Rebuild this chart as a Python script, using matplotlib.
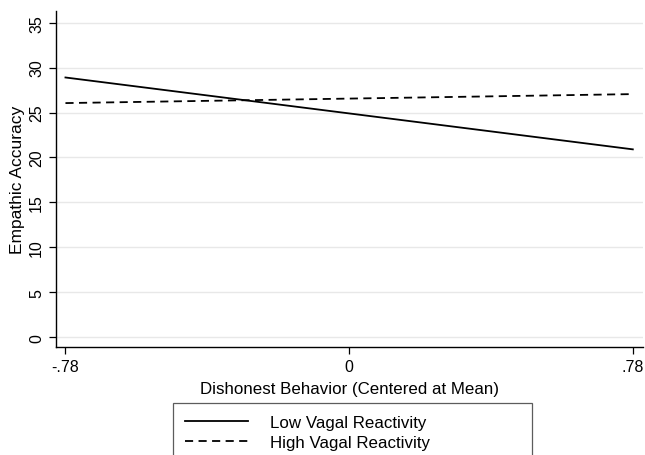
import matplotlib
matplotlib.use("Agg")
import matplotlib.pyplot as plt

plt.rcParams['font.family'] = ['Liberation Sans', 'DejaVu Sans']

# data
dishonest = [-0.78, 0.0, 0.78]
low_vagal = [28.9, 24.9, 20.9]
high_vagal = [26.05, 26.55, 27.05]
xtick_vals = [-0.78, 0.0, 0.78]
xtick_labels = ["-.78", "0", ".78"]
ytick_vals = [0, 5, 10, 15, 20, 25, 30, 35]

fig = plt.figure(figsize=(6.45, 4.56), dpi=100)
ax = fig.add_axes([56 / 645, 1 - 348 / 456, 587 / 645, 336 / 456])

ax.plot(dishonest, low_vagal, color='black', lw=1.3, ls='-',
        label='Low Vagal Reactivity')
ax.plot(dishonest, high_vagal, color='black', lw=1.3, ls=(0, (4.5, 3)),
        label='High Vagal Reactivity')

ax.set_xlim(-0.806, 0.808)
ax.set_ylim(-1.1, 36.3)
ax.set_xticks(xtick_vals)
ax.set_xticklabels(xtick_labels)
ax.set_yticks(ytick_vals)
ax.set_yticklabels([str(v) for v in ytick_vals], rotation=90, va='center')

ax.grid(axis='y', color='#e8e8e8', lw=1)
ax.set_axisbelow(True)
for s in ['top', 'right']:
    ax.spines[s].set_visible(False)
for s in ['left', 'bottom']:
    ax.spines[s].set_linewidth(1.0)
ax.tick_params(labelsize=11.5, length=5, width=0.9, colors='black')

ax.set_xlabel('Dishonest Behavior (Centered at Mean)', fontsize=12.2, labelpad=5)
ax.set_ylabel('Empathic Accuracy', fontsize=12.5, labelpad=3)

leg = fig.legend(loc='upper left',
                 bbox_to_anchor=(173 / 645, 1 - 404 / 456, 359 / 645, 0.0),
                 mode='expand', fontsize=12.2, frameon=True, fancybox=False,
                 handlelength=3.7, handletextpad=1.3, labelspacing=0.32,
                 borderpad=0.7, borderaxespad=0)
leg.get_frame().set_edgecolor('#333333')
leg.get_frame().set_linewidth(0.9)

fig.savefig('out.png', dpi=100)
